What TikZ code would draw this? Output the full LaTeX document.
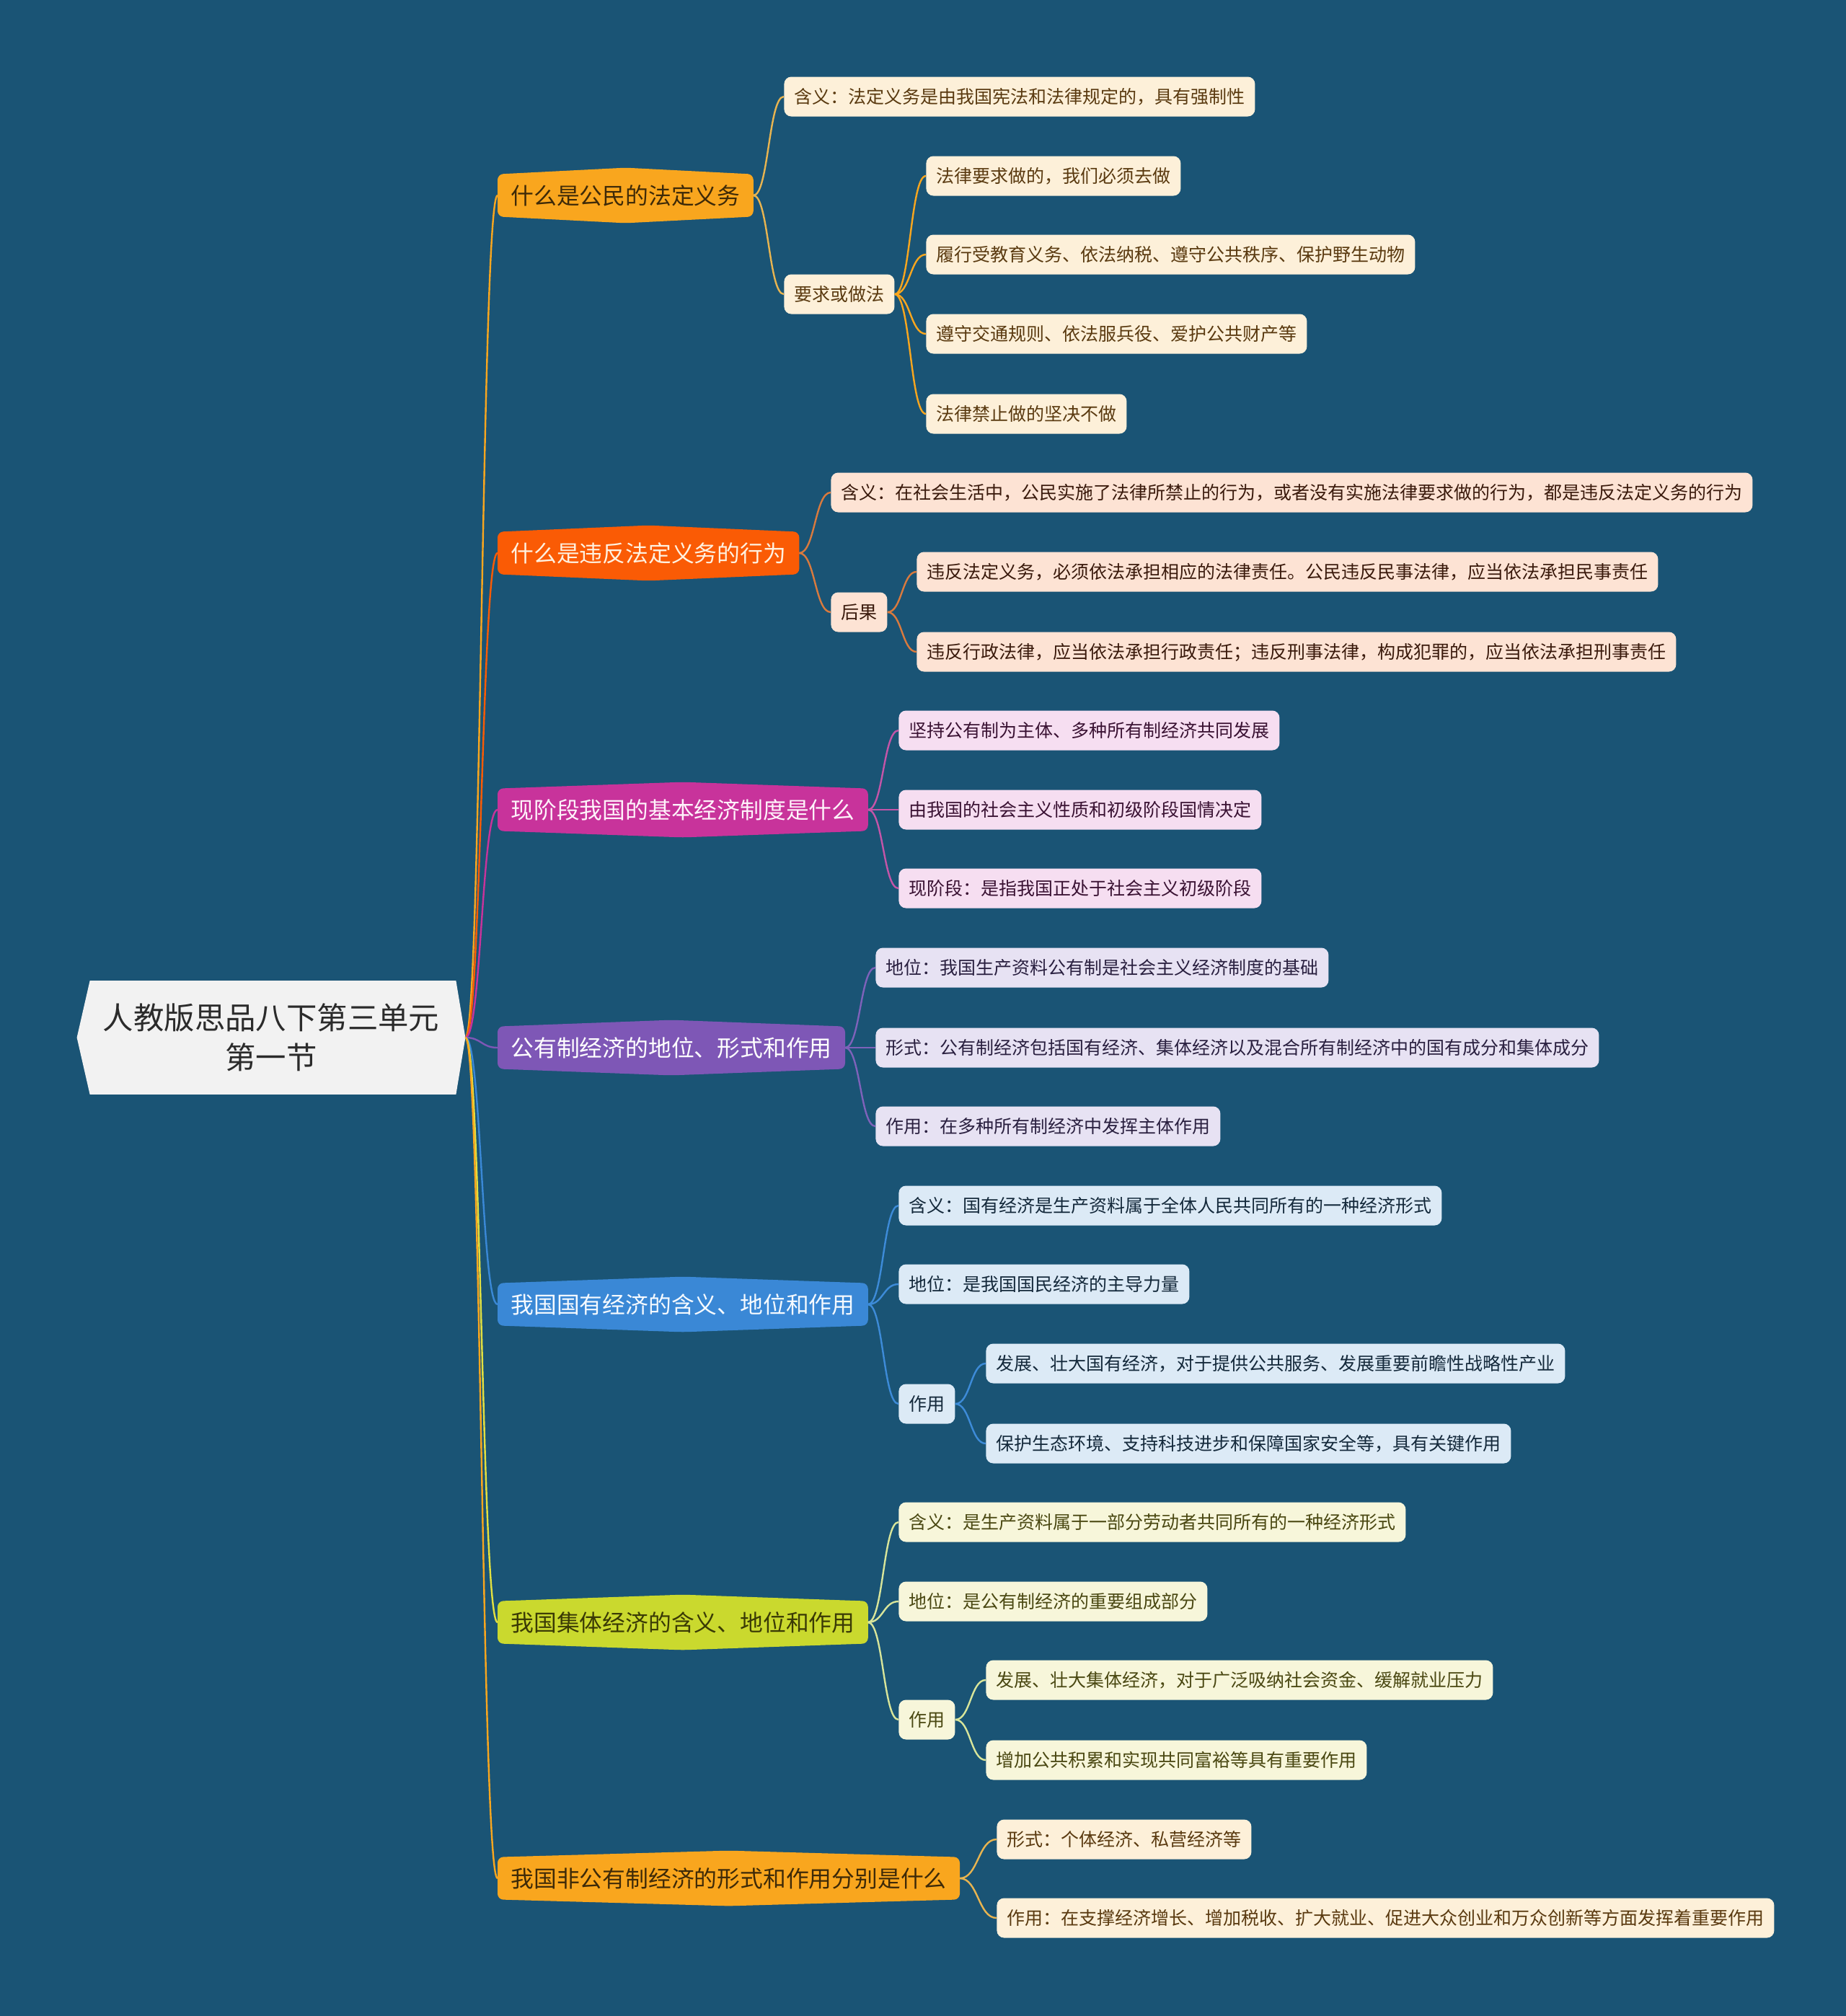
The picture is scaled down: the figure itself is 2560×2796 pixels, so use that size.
\documentclass[tikz,border=0pt]{standalone}
\usepackage{fontspec}
\setmainfont{Noto Sans CJK SC}
\usetikzlibrary{calc}
\pgfdeclarelayer{back}
\pgfdeclarelayer{bg}
\pgfsetlayers{back,bg,main}

\definecolor{bgc}{HTML}{1A5475}
\definecolor{rootfill}{HTML}{F2F2F2}
\definecolor{roottext}{HTML}{2B2B2B}
% branch 1 / 7
\definecolor{fA}{HTML}{F9A61E}\definecolor{tA}{HTML}{3E2A08}
\definecolor{lA}{HTML}{FDF0D9}\definecolor{ltA}{HTML}{5A3A10}\definecolor{cA}{HTML}{E8B450}
% branch 2
\definecolor{fB}{HTML}{FA5B05}\definecolor{tB}{HTML}{FFF1E0}
\definecolor{lB}{HTML}{FDE3D4}\definecolor{ltB}{HTML}{3A1A0C}\definecolor{cB}{HTML}{D97A3E}
% branch 3
\definecolor{fC}{HTML}{C8339B}\definecolor{tC}{HTML}{FFF2FA}
\definecolor{lC}{HTML}{F6DEF1}\definecolor{ltC}{HTML}{3A1233}\definecolor{cC}{HTML}{C455A8}
% branch 4
\definecolor{fD}{HTML}{7E57B6}\definecolor{tD}{HTML}{FFFFFF}
\definecolor{lD}{HTML}{E7E2F3}\definecolor{ltD}{HTML}{2A2040}\definecolor{cD}{HTML}{7E62BA}
% branch 5
\definecolor{fE}{HTML}{3A88D6}\definecolor{tE}{HTML}{F5FAFF}
\definecolor{lE}{HTML}{DCEAF6}\definecolor{ltE}{HTML}{14293B}\definecolor{cE}{HTML}{3D8BD8}
% branch 6
\definecolor{fF}{HTML}{CAD92E}\definecolor{tF}{HTML}{3A3A05}
\definecolor{lF}{HTML}{F7F6DA}\definecolor{ltF}{HTML}{4A4812}\definecolor{cF}{HTML}{D8E59A}
\definecolor{rF}{HTML}{E2E040}

\newcommand\brshape[2]{%
  \begin{pgfonlayer}{bg}
  \fill[#2, rounded corners=4pt] (#1.north west) -- ([yshift=4.5pt]#1.north) -- (#1.north east)
     -- (#1.south east) -- ([yshift=-4.5pt]#1.south) -- (#1.south west) -- cycle;
  \end{pgfonlayer}}

\tikzset{
  leaf/.style={anchor=west, rounded corners=5pt, inner xsep=7pt, inner ysep=0pt,
     minimum height=27.5pt, text height=11pt, text depth=1.5pt,
     font=\fontsize{12.5}{15}\selectfont},
  branch/.style={anchor=west, inner xsep=9pt, inner ysep=0pt, minimum height=29pt,
     text height=14pt, text depth=1.9pt, font=\fontsize{15.9}{19}\selectfont},
  conn/.style={line width=1.2pt, to path={let \p1=(\tikztostart), \p2=(\tikztotarget) in
     .. controls ({0.5*(\x1+\x2)},\y1) and ({0.5*(\x1+\x2)},\y2) .. (\tikztotarget)}},
  leafA/.style={leaf, fill=lA, text=ltA},
  leafB/.style={leaf, fill=lB, text=ltB},
  leafC/.style={leaf, fill=lC, text=ltC},
  leafD/.style={leaf, fill=lD, text=ltD},
  leafE/.style={leaf, fill=lE, text=ltE},
  leafF/.style={leaf, fill=lF, text=ltF},
}

\begin{document}
\begin{tikzpicture}[x=0.5pt,y=-0.5pt]
\begin{pgfonlayer}{back}
\fill[bgc] (0,0) rectangle (2560,2796);
\end{pgfonlayer}
\useasboundingbox (0,0) rectangle (2560,2796);

% root
\node[minimum width=269pt, minimum height=78.5pt, align=center, text=roottext,
      font=\fontsize{21.2}{27.5}\selectfont] (root) at (376,1439) {人教版思品八下第三单元\\第一节};
\begin{pgfonlayer}{bg}
\fill[rootfill] (root.west) -- ([xshift=9pt]root.north west) -- ([xshift=-6.5pt]root.north east)
   -- (root.east) -- ([xshift=-6.5pt]root.south east) -- ([xshift=9pt]root.south west) -- cycle;
\end{pgfonlayer}

% branches
\node[branch, text=tA] (b1) at (690,271) {什么是公民的法定义务};
\node[branch, text=tB] (b2) at (690,767) {什么是违反法定义务的行为};
\node[branch, text=tC] (b3) at (690,1123) {现阶段我国的基本经济制度是什么};
\node[branch, text=tD] (b4) at (690,1453) {公有制经济的地位、形式和作用};
\node[branch, text=tE] (b5) at (690,1809) {我国国有经济的含义、地位和作用};
\node[branch, text=tF] (b6) at (690,2250) {我国集体经济的含义、地位和作用};
\node[branch, text=tA] (b7) at (690,2605) {我国非公有制经济的形式和作用分别是什么};
\brshape{b1}{fA}\brshape{b2}{fB}\brshape{b3}{fC}\brshape{b4}{fD}
\brshape{b5}{fE}\brshape{b6}{fF}\brshape{b7}{fA}

% leaves branch 1
\node[leafA] (l1a) at (1087,134) {含义：法定义务是由我国宪法和法律规定的，具有强制性};
\node[leafA] (l1b) at (1087,408) {要求或做法};
\node[leafA] (l1b1) at (1284,244) {法律要求做的，我们必须去做};
\node[leafA] (l1b2) at (1284,353) {履行受教育义务、依法纳税、遵守公共秩序、保护野生动物};
\node[leafA] (l1b3) at (1284,463) {遵守交通规则、依法服兵役、爱护公共财产等};
\node[leafA] (l1b4) at (1284,574) {法律禁止做的坚决不做};
% branch 2
\node[leafB] (l2a) at (1152,683) {含义：在社会生活中，公民实施了法律所禁止的行为，或者没有实施法律要求做的行为，都是违反法定义务的行为};
\node[leafB] (l2b) at (1152,849) {后果};
\node[leafB] (l2b1) at (1271,793) {违反法定义务，必须依法承担相应的法律责任。公民违反民事法律，应当依法承担民事责任};
\node[leafB] (l2b2) at (1271,904) {违反行政法律，应当依法承担行政责任；违反刑事法律，构成犯罪的，应当依法承担刑事责任};
% branch 3
\node[leafC] (l3a) at (1246,1013) {坚持公有制为主体、多种所有制经济共同发展};
\node[leafC] (l3b) at (1246,1123) {由我国的社会主义性质和初级阶段国情决定};
\node[leafC] (l3c) at (1246,1232) {现阶段：是指我国正处于社会主义初级阶段};
% branch 4
\node[leafD] (l4a) at (1214,1342) {地位：我国生产资料公有制是社会主义经济制度的基础};
\node[leafD] (l4b) at (1214,1453) {形式：公有制经济包括国有经济、集体经济以及混合所有制经济中的国有成分和集体成分};
\node[leafD] (l4c) at (1214,1562) {作用：在多种所有制经济中发挥主体作用};
% branch 5
\node[leafE] (l5a) at (1246,1672) {含义：国有经济是生产资料属于全体人民共同所有的一种经济形式};
\node[leafE] (l5b) at (1246,1781) {地位：是我国国民经济的主导力量};
\node[leafE] (l5c) at (1246,1947) {作用};
\node[leafE] (l5c1) at (1367,1891) {发展、壮大国有经济，对于提供公共服务、发展重要前瞻性战略性产业};
\node[leafE] (l5c2) at (1367,2002) {保护生态环境、支持科技进步和保障国家安全等，具有关键作用};
% branch 6
\node[leafF] (l6a) at (1246,2111) {含义：是生产资料属于一部分劳动者共同所有的一种经济形式};
\node[leafF] (l6b) at (1246,2221) {地位：是公有制经济的重要组成部分};
\node[leafF] (l6c) at (1246,2385) {作用};
\node[leafF] (l6c1) at (1367,2330) {发展、壮大集体经济，对于广泛吸纳社会资金、缓解就业压力};
\node[leafF] (l6c2) at (1367,2441) {增加公共积累和实现共同富裕等具有重要作用};
% branch 7
\node[leafA] (l7a) at (1382,2551) {形式：个体经济、私营经济等};
\node[leafA] (l7b) at (1382,2660) {作用：在支撑经济增长、增加税收、扩大就业、促进大众创业和万众创新等方面发挥着重要作用};

% connectors root -> branches
\begin{pgfonlayer}{bg}
\draw[conn, fA] (root.east) to (b1.west);
\draw[conn, fB] (root.east) to (b2.west);
\draw[conn, fC] (root.east) to (b3.west);
\draw[conn, fD] (root.east) to (b4.west);
\draw[conn, fE] (root.east) to (b5.west);
\draw[conn, rF] (root.east) to (b6.west);
\draw[conn, fA] (root.east) to (b7.west);
\end{pgfonlayer}

% branch -> leaves
\draw[conn, cA] (b1.east) to (l1a.west);
\draw[conn, cA] (b1.east) to (l1b.west);
\draw[conn, fA] (l1b.east) to (l1b1.west);
\draw[conn, fA] (l1b.east) to (l1b2.west);
\draw[conn, fA] (l1b.east) to (l1b3.west);
\draw[conn, fA] (l1b.east) to (l1b4.west);

\draw[conn, cB] (b2.east) to (l2a.west);
\draw[conn, cB] (b2.east) to (l2b.west);
\draw[conn, cB] (l2b.east) to (l2b1.west);
\draw[conn, cB] (l2b.east) to (l2b2.west);

\draw[conn, cC] (b3.east) to (l3a.west);
\draw[conn, cC] (b3.east) to (l3b.west);
\draw[conn, cC] (b3.east) to (l3c.west);

\draw[conn, cD] (b4.east) to (l4a.west);
\draw[conn, cD] (b4.east) to (l4b.west);
\draw[conn, cD] (b4.east) to (l4c.west);

\draw[conn, cE] (b5.east) to (l5a.west);
\draw[conn, cE] (b5.east) to (l5b.west);
\draw[conn, cE] (b5.east) to (l5c.west);
\draw[conn, cE] (l5c.east) to (l5c1.west);
\draw[conn, cE] (l5c.east) to (l5c2.west);

\draw[conn, cF] (b6.east) to (l6a.west);
\draw[conn, cF] (b6.east) to (l6b.west);
\draw[conn, cF] (b6.east) to (l6c.west);
\draw[conn, cF] (l6c.east) to (l6c1.west);
\draw[conn, cF] (l6c.east) to (l6c2.west);

\draw[conn, cA] (b7.east) to (l7a.west);
\draw[conn, cA] (b7.east) to (l7b.west);
\end{tikzpicture}
\end{document}
